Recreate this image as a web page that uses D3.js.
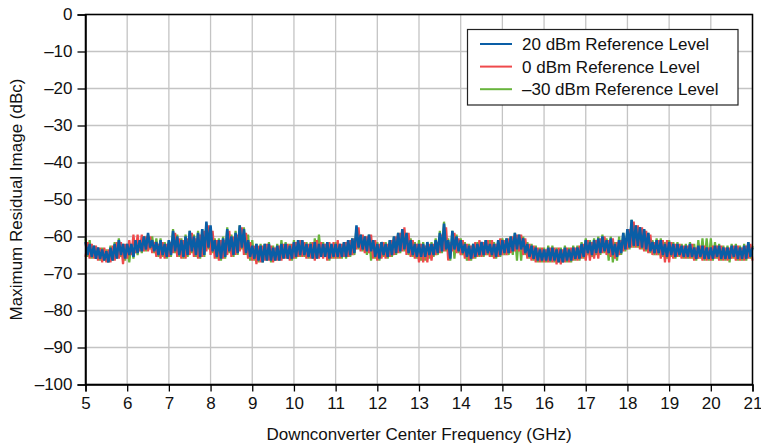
<!DOCTYPE html>
<html><head><meta charset="utf-8">
<script src="https://cdn.jsdelivr.net/npm/d3@7"></script>
<style>html,body{margin:0;padding:0;background:#fff;}svg{display:block;font-family:"Liberation Sans",Arial,Helvetica,sans-serif;}</style>
</head><body><svg id="c" width="761" height="445"></svg>
<script>
// Frequency sampling: 5 GHz to 21 GHz, one reading every 0.05 GHz
const freqStart = 5, freqStep = 0.05;
const xTicks = [5,6,7,8,9,10,11,12,13,14,15,16,17,18,19,20,21];
const yTicks = [0,-10,-20,-30,-40,-50,-60,-70,-80,-90,-100];
const seriesNames = ["20 dBm Reference Level","0 dBm Reference Level","\u201330 dBm Reference Level"];

// 20 dBm reference level (dBc)
const ref20 = [
-61.5,-65,-62,-65.5,-62.5,-66,-63,-66,-63.5,-66.5,-64,-67,-63,-66.5,-62,-66,-61,-65,-62,-66,
-62,-65,-62,-65.5,-61,-64.5,-61,-64,-60,-63.5,-59,-63,-61,-64,-61.5,-65,-61,-65,-62,-65.5,
-61,-65,-58.5,-64,-60,-65,-61,-65.5,-60,-65,-58.5,-64,-60,-65,-59,-65.5,-58,-65,-56,-63,
-57,-64,-61,-65.5,-61,-66,-60.5,-65.5,-58,-64,-60,-65,-59,-64.5,-57,-63,-58,-64.5,-61,-65.5,
-62.5,-66,-62,-66.5,-62.5,-67,-62,-66.5,-62,-66.5,-63,-66.5,-62.5,-66.5,-62,-66,-62,-66,-62.5,-66,
-61.5,-65.5,-61,-65,-61,-65,-62,-65.5,-62,-66,-61.5,-66,-62,-65.5,-62,-65.5,-61.5,-66,-62,-65.5,
-62,-65.5,-62,-65.5,-61.5,-65.5,-61,-65,-60.5,-64.5,-57,-63,-59.5,-63.5,-60,-64,-59.5,-64,-61,-65.5,
-62,-66,-61.5,-65,-62,-65.5,-61,-65,-60,-64.5,-59,-64,-58,-63.5,-59,-64.5,-61,-65,-62,-65.5,
-62,-65.5,-62,-65.5,-61.5,-65,-62,-65,-61,-64.5,-59,-64,-56.5,-63.5,-61,-66,-58.5,-63.5,-60,-64,
-61,-64.5,-62,-65.5,-62.5,-66,-62,-65.5,-62,-65,-61.5,-65,-61,-64.5,-62,-65,-62,-65.5,-61,-65,
-61,-64.5,-60.5,-64.5,-60,-64,-59,-63.5,-59.5,-63.5,-60.5,-64.5,-62,-65.5,-62.5,-66,-63,-66.5,-63.5,-66.5,
-63.5,-66.5,-63,-66.5,-63,-66.5,-63.5,-67,-63.5,-67,-63,-66.5,-63.5,-66.5,-63,-66,-63,-66,-62,-65.5,
-61,-64.5,-61.5,-65,-61,-64.5,-60.5,-64.5,-60,-64,-61,-64.5,-60.5,-65,-62,-65.5,-61,-64.5,-59,-63.5,
-58,-63,-55.5,-62.5,-57,-62.5,-57.5,-63,-58,-63.5,-59,-64,-61.5,-64.5,-61,-64.5,-61,-65,-62,-65.5,
-61.5,-65,-62,-65.5,-62,-65,-62.5,-65.5,-62.5,-65.5,-62,-65.5,-63,-66,-62.5,-65.5,-62.5,-66,-63,-66,
-63,-66,-62.5,-65.5,-62.5,-66,-63,-66,-63,-66,-62.5,-65.5,-62.5,-66,-63,-66,-62.5,-66,-61.5,-65.5,
-63];

// 0 dBm reference level (dBc)
const ref0 = [
-65.5,-61.5,-66,-62,-66,-62.5,-66.5,-63,-67,-63,-67,-63.5,-67,-62.5,-66.5,-61.5,-66,-61.5,-67.5,-62,
-66,-61,-65,-59.5,-64.5,-59.5,-64,-59.5,-64,-60,-64,-60,-64.5,-61.5,-65.5,-62,-66,-61.5,-66,-62,
-65.5,-61.5,-64.5,-59,-65.5,-60.5,-66,-61,-66,-60.5,-65,-59,-65.5,-60.5,-66,-59.5,-65.5,-58.5,-64,-57,
-65,-58.5,-66,-61,-66.5,-61,-66,-61,-65,-58.5,-65.5,-60,-65,-59.5,-64,-57.5,-65,-59,-66,-61.5,
-66.5,-62.5,-67.5,-62.5,-67,-62.5,-66.5,-62,-66.5,-62.5,-67,-63,-66.5,-62.5,-66.5,-62,-66,-62,-66.5,-62,
-66,-61.5,-65.5,-61,-65.5,-61.5,-66,-62,-66,-61.5,-66.5,-61,-66,-61.5,-66,-62,-66.5,-61.5,-66,-61.5,
-66,-61,-66,-62,-65.5,-61.5,-65.5,-61,-65,-60.5,-63.5,-57.5,-64,-59.5,-64.5,-60,-64.5,-59.5,-66,-61,
-66.5,-62,-66,-61.5,-66,-62,-65.5,-61,-65,-60,-64.5,-59,-64,-57.5,-65,-59,-65.5,-61,-66,-62,
-67,-62,-67,-62.5,-67,-62,-66.5,-62,-65,-61.5,-64.5,-59.5,-64,-57.5,-66.5,-61.5,-64,-59,-64.5,-60.5,
-65,-61,-66,-62,-66.5,-62.5,-66,-61.5,-65.5,-61,-65.5,-61.5,-65,-61,-65.5,-61,-66,-62,-65.5,-60.5,
-65,-61,-65,-60.5,-64.5,-60,-64,-59.5,-64,-59.5,-65,-60.5,-66,-62,-66.5,-62.5,-67,-63,-67,-63,
-67,-63.5,-67,-63,-67,-63,-67.5,-63,-67.5,-63.5,-67,-63,-67,-63,-66.5,-63,-66.5,-62.5,-66,-62,
-66.5,-61,-66.5,-61.5,-66,-61,-66,-60.5,-64.5,-60,-65,-61,-65.5,-60.5,-66,-61.5,-65,-61,-64,-60.5,
-63.5,-58,-63,-56,-63,-57,-63.5,-57.5,-64,-58.5,-64.5,-59.5,-65,-61.5,-65,-61,-66,-61,-67,-61,
-67,-61.5,-66,-62,-65.5,-62,-66,-62.5,-66,-62.5,-66,-62,-66.5,-63,-66,-62.5,-66.5,-62.5,-66.5,-63,
-66.5,-62.5,-66,-62.5,-66.5,-62.5,-66.5,-63,-66.5,-63,-66,-62.5,-66.5,-62.5,-66.5,-63,-66.5,-62.5,-66,-62,
-66.5];

// -30 dBm reference level (dBc)
const refm30 = [
-60.5,-65.5,-61,-66,-62.5,-66,-63,-66.5,-63,-66.5,-63.5,-67,-62.5,-66.5,-61.5,-66,-60.5,-65.5,-62,-66.5,
-62,-67,-62,-66,-61,-65,-61,-64.5,-60,-64,-59.5,-63.5,-60,-64.5,-60.5,-65.5,-60.5,-65.5,-61.5,-66,
-61,-65.5,-58,-64.5,-59.5,-65.5,-60.5,-66,-59.5,-65.5,-58.5,-64.5,-59.5,-65.5,-58.5,-66,-58,-65.5,-56.5,-63.5,
-57.5,-64.5,-60.5,-66,-60.5,-66.5,-60,-66,-57.5,-64.5,-59.5,-65.5,-58.5,-65,-57,-63.5,-57.5,-65,-59.5,-66.5,
-61,-66.5,-62,-67,-62,-67,-62,-66.5,-61.5,-67,-62.5,-66.5,-62,-66.5,-61,-66,-61.5,-66,-62,-66.5,
-61,-66,-61,-65.5,-61,-65.5,-61.5,-66,-61.5,-66,-60.5,-66,-59.5,-65.5,-61.5,-65.5,-61.5,-66.5,-62,-66,
-61.5,-66,-62,-66,-61.5,-66,-61,-65.5,-60.5,-65,-57.5,-63.5,-59.5,-64,-60,-65,-59.5,-66.5,-61,-66,
-61.5,-66.5,-61.5,-65.5,-61.5,-66,-61,-65.5,-60,-65,-59,-64.5,-58,-64,-59,-65,-60.5,-65.5,-61.5,-66,
-61,-66.5,-61.5,-66.5,-61.5,-66,-61.5,-65.5,-60.5,-65,-58.5,-64.5,-56,-64,-60.5,-66.5,-58.5,-66,-59.5,-64.5,
-60.5,-65,-61.5,-66.5,-62,-66.5,-62,-66,-61.5,-65.5,-61.5,-65.5,-61,-65,-61,-65.5,-61.5,-66,-61,-65.5,
-60.5,-65,-60.5,-65,-60,-65,-59,-66.5,-59.5,-66.5,-60,-65,-61.5,-66,-62,-66.5,-62.5,-67,-63,-67,
-63,-67,-62.5,-67,-62.5,-67,-63,-67,-63,-67,-62.5,-67,-63,-67,-62.5,-66.5,-62.5,-66.5,-61.5,-66,
-60.5,-65,-61,-65.5,-60.5,-65,-60,-65,-59.5,-64.5,-60.5,-66.5,-60,-67,-61.5,-66.5,-60,-65,-59,-64,
-58,-63.5,-55.5,-63,-57,-63,-57.5,-63.5,-58,-64,-59,-64.5,-61,-65,-60.5,-65,-60.5,-65.5,-61.5,-66,
-61,-65.5,-61.5,-66,-61.5,-65.5,-62,-66,-62,-66,-61.5,-66,-62,-66.5,-61,-66,-60.5,-66.5,-60.5,-66.5,
-60.5,-66.5,-61.5,-66,-62,-66.5,-62.5,-66.5,-62.5,-67,-62,-66,-62,-66.5,-62.5,-66.5,-62,-66.5,-61.5,-66,
-62.5];

const colors = ["#0a5ea6","#ef4a4c","#68b43c"];

const svg = d3.select("#c");
const W = 761, H = 445;
const m = {left: 85.5, right: W - 752.5, top: 14.5, bottom: H - 384.5};
const x = d3.scaleLinear().domain([5,21]).range([m.left, W - m.right]);
const y = d3.scaleLinear().domain([-100,0]).range([H - m.bottom, m.top]);
const FS = "17px";

// grid
svg.append("g").selectAll("line").data(xTicks).join("line")
  .attr("x1", d => x(d)).attr("x2", d => x(d)).attr("y1", y(0)).attr("y2", y(-100))
  .attr("stroke", "#c4c4c4").attr("stroke-width", 1.3);
svg.append("g").selectAll("line").data(yTicks).join("line")
  .attr("x1", x(5)).attr("x2", x(21)).attr("y1", d => y(d)).attr("y2", d => y(d))
  .attr("stroke", "#c4c4c4").attr("stroke-width", 1.3);

// series
const series = [refm30, ref0, ref20];
const sColors = [colors[2], colors[1], colors[0]];
const line = d3.line().x((d, i) => x(freqStart + i * freqStep)).y(d => y(d));
svg.append("g").selectAll("path").data(series).join("path")
  .attr("d", d => line(d)).attr("fill", "none")
  .attr("stroke", (d, i) => sColors[i]).attr("stroke-width", (d, i) => i === 2 ? 2.5 : 2.2)
  .attr("stroke-linejoin", "miter").attr("stroke-miterlimit", 2);

// frame
svg.append("rect").attr("x", x(5)).attr("y", y(0)).attr("width", x(21) - x(5)).attr("height", y(-100) - y(0))
  .attr("fill", "none").attr("stroke", "#000").attr("stroke-width", 1.5);

// axes
const fmt = d => d < 0 ? "\u2013" + Math.abs(d) : String(d);
const yAxis = svg.append("g").attr("transform", `translate(${x(5)},0)`)
  .call(d3.axisLeft(y).tickValues(yTicks).tickFormat(fmt).tickSize(8).tickPadding(5));
const xAxis = svg.append("g").attr("transform", `translate(0,${y(-100)})`)
  .call(d3.axisBottom(x).tickValues(xTicks).tickFormat(d => d).tickSize(7).tickPadding(5));
[yAxis, xAxis].forEach(a => {
  a.select(".domain").attr("stroke", "#000").attr("stroke-width", 1.5);
  a.selectAll(".tick line").attr("stroke", "#000").attr("stroke-width", 1.3);
  a.selectAll("text").attr("fill", "#111").style("font-size", FS).style("font-family", "'Liberation Sans', Arial, sans-serif");
});

svg.append("text").attr("x", (x(5) + x(21)) / 2).attr("y", 440).attr("text-anchor", "middle")
  .style("font-size", FS).attr("fill", "#111").text("Downconverter Center Frequency (GHz)");
svg.append("text").attr("transform", `translate(22,${(y(0) + y(-100)) / 2}) rotate(-90)`).attr("text-anchor", "middle")
  .style("font-size", FS).attr("fill", "#111").text("Maximum Residual Image (dBc)");

// legend
const lg = svg.append("g");
lg.append("rect").attr("x", 467.5).attr("y", 29.5).attr("width", 270.5).attr("height", 75.5)
  .attr("fill", "#fff").attr("stroke", "#222").attr("stroke-width", 1.2);
seriesNames.forEach((n, i) => {
  const yy = 44 + i * 22.6;
  lg.append("line").attr("x1", 480).attr("x2", 512).attr("y1", yy).attr("y2", yy)
    .attr("stroke", colors[i]).attr("stroke-width", 2);
  lg.append("text").attr("x", 522).attr("y", yy).attr("dy", "0.35em")
    .style("font-size", FS).attr("fill", "#111").text(n);
});
</script></body></html>
